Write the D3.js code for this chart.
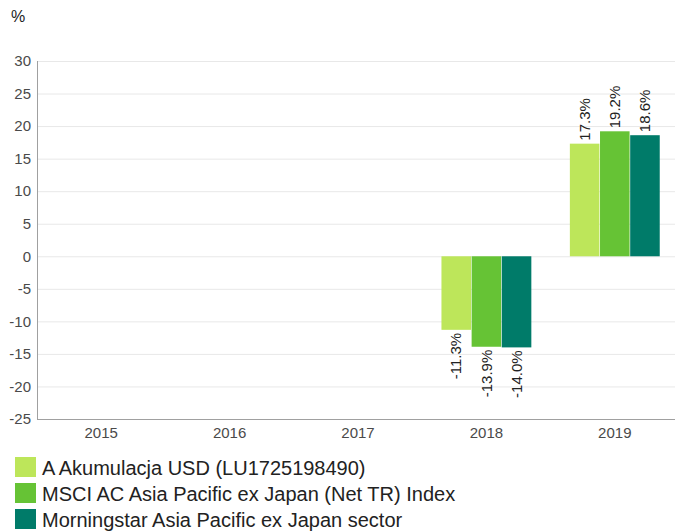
<!DOCTYPE html>
<html lang="en">
<head>
<meta charset="UTF-8">
<title>Calendar year performance</title>
<script src="https://cdn.jsdelivr.net/npm/d3@7"></script>
<style>
  body { margin: 0; background: #fff; }
  svg { font-family: Arial, "Liberation Sans", sans-serif; display: block; }
  .grid line { stroke: #e8e8e8; }
  .tick text { fill: #4a4a4a; }
</style>
</head>
<body>
<div id="chart"></div>
<script>
// data
var years = ["2015", "2016", "2017", "2018", "2019"];
var seriesNames = [
  "A Akumulacja USD (LU1725198490)",
  "MSCI AC Asia Pacific ex Japan (Net TR) Index",
  "Morningstar Asia Pacific ex Japan sector"
];
var fundValues   = [null, null, null, -11.3, 17.3];
var indexValues  = [null, null, null, -13.9, 19.2];
var sectorValues = [null, null, null, -14.0, 18.6];
var yTicks = [30, 25, 20, 15, 10, 5, 0, -5, -10, -15, -20, -25];
var colors = ["#bde65a", "#66c335", "#007b69"];

const w = 675, h = 532;
const margin = {top: 61, right: -4, bottom: 113, left: 37};

var svg = d3.select("#chart").append("svg")
  .attr("width", w)
  .attr("height", h);

var x0 = d3.scaleBand()
  .domain(years)
  .range([margin.left, w - margin.right])
  .paddingInner(0.3)
  .paddingOuter(0.15);

var x1 = d3.scaleBand()
  .domain(d3.range(seriesNames.length))
  .range([0, x0.bandwidth()])
  .paddingInner(0.02);

var y = d3.scaleLinear()
  .domain([-25, 30])
  .range([h - margin.bottom, margin.top]);

// grid
svg.append("g")
  .attr("class", "grid")
  .selectAll("line")
  .data(yTicks)
  .enter()
  .append("line")
    .attr("x1", margin.left)
    .attr("x2", w)
    .attr("y1", d => y(d) + 0.5)
    .attr("y2", d => y(d) + 0.5);

// y axis labels
svg.append("g")
  .attr("class", "tick")
  .selectAll("text")
  .data(yTicks)
  .enter()
  .append("text")
    .attr("x", 31)
    .attr("y", d => y(d))
    .attr("dy", "0.35em")
    .attr("text-anchor", "end")
    .style("font-size", "15px")
    .text(d => d);

// axis lines
svg.append("line")
  .attr("x1", margin.left + 0.5).attr("x2", margin.left + 0.5)
  .attr("y1", y(30)).attr("y2", y(-25))
  .attr("stroke", "#a0a0a0");
svg.append("line")
  .attr("x1", margin.left).attr("x2", w)
  .attr("y1", y(-25) + 0.5).attr("y2", y(-25) + 0.5)
  .attr("stroke", "#a0a0a0");

// x labels (categories centred on full band)
var xCenter = d3.scalePoint()
  .domain(years)
  .range([margin.left, w - margin.right])
  .padding(0.5);

svg.append("g")
  .attr("class", "tick")
  .selectAll("text")
  .data(years)
  .enter()
  .append("text")
    .attr("x", d => xCenter(d))
    .attr("y", y(-25) + 19)
    .attr("text-anchor", "middle")
    .style("font-size", "15px")
    .text(d => d);

svg.append("text")
  .attr("x", 11)
  .attr("y", 22)
  .style("font-size", "16px")
  .attr("fill", "#222")
  .text("%");

// bars
var allSeries = [fundValues, indexValues, sectorValues];
var barData = [];
years.forEach(function(yr, i) {
  allSeries.forEach(function(s, j) {
    if (s[i] != null) barData.push({year: yr, s: j, val: s[i]});
  });
});

var bars = svg.append("g")
  .selectAll("g")
  .data(barData)
  .enter()
  .append("g")
    .attr("transform", d => "translate(" + (x0(d.year) + x1(d.s)) + ",0)");

bars.append("rect")
  .attr("x", 0)
  .attr("width", x1.bandwidth())
  .attr("y", d => y(Math.max(0, d.val)))
  .attr("height", d => Math.abs(y(d.val) - y(0)))
  .attr("fill", d => colors[d.s]);

bars.append("text")
  .attr("transform", function(d) {
    var cx = x1.bandwidth() / 2;
    var cy = d.val >= 0 ? y(d.val) - 3 : y(d.val) + 3;
    return "translate(" + cx + "," + cy + ") rotate(-90)";
  })
  .attr("dy", "0.35em")
  .attr("text-anchor", d => d.val >= 0 ? "start" : "end")
  .style("font-size", "15px")
  .attr("fill", "#222")
  .text(d => d.val.toFixed(1) + "%");

// legend
var legend = svg.append("g")
  .selectAll("g")
  .data(seriesNames)
  .enter()
  .append("g")
    .attr("transform", (d, i) => "translate(15," + (457 + i * 26) + ")");

legend.append("rect")
  .attr("width", 21)
  .attr("height", 20)
  .attr("fill", (d, i) => colors[i]);

legend.append("text")
  .attr("x", 27)
  .attr("y", 18)
  .style("font-size", "20px")
  .attr("fill", "#222")
  .text(d => d);
</script>
</body>
</html>
